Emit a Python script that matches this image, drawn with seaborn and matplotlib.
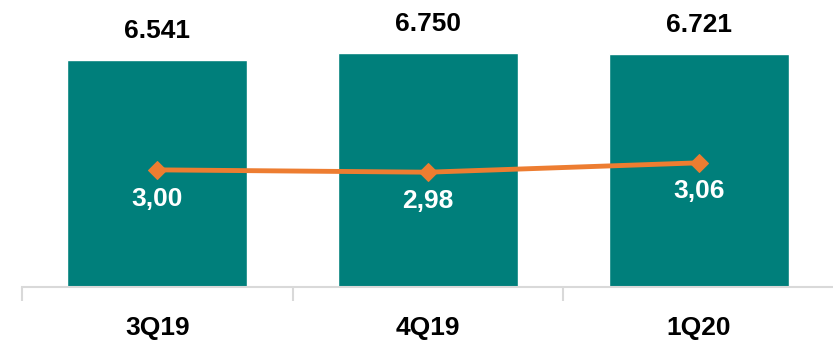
import matplotlib
matplotlib.use("Agg")
import matplotlib.pyplot as plt
import seaborn as sns
import pandas as pd

sns.set_theme(style="white")
plt.rcParams['font.family'] = ['Liberation Sans', 'DejaVu Sans']

quarters = ["3Q19", "4Q19", "1Q20"]
volume = [6.541, 6.750, 6.721]
volume_labels = ["6.541", "6.750", "6.721"]
ratio = [3.00, 2.98, 3.06]
ratio_labels = ["3,00", "2,98", "3,06"]

teal = "#007F7B"
orange = "#ED7D31"

df = pd.DataFrame({"quarter": quarters, "volume": volume, "ratio": ratio})

fig = plt.figure(figsize=(8.33, 3.46), dpi=100)
ax = fig.add_axes([22 / 833, 59 / 346, 812 / 833, 287 / 346])

sns.barplot(data=df, x="quarter", y="volume", color=teal, width=0.665,
            saturation=1, ax=ax)
ax.set_xlim(-0.5, 2.5)
ax.set_ylim(0, 8.27)
for i, lab in enumerate(volume_labels):
    ax.annotate(lab, (i, volume[i]), xytext=(0, 12), textcoords="offset points",
                ha="center", va="bottom", fontsize=19, fontweight="bold", color="black")

ax2 = ax.twinx()
sns.lineplot(x=list(range(len(quarters))), y=ratio, ax=ax2, color=orange,
             linewidth=3.5, marker="D", markersize=9, markeredgecolor=orange)
ax2.set_ylim(2.0, 4.45)
for i, lab in enumerate(ratio_labels):
    ax2.annotate(lab, (i, ratio[i]), xytext=(0, -12), textcoords="offset points",
                 ha="center", va="top", fontsize=19, fontweight="bold", color="white")

for a in (ax, ax2):
    for s in ["top", "right", "left"]:
        a.spines[s].set_visible(False)
    a.set_yticks([])
    a.set_ylabel("")
ax2.spines["bottom"].set_visible(False)

ax.spines["bottom"].set_color("#D9D9D9")
ax.spines["bottom"].set_linewidth(1.5)
ax.set_xlabel("")
ax.set_xticks([-0.5, 0.5, 1.5], minor=True)
ax.tick_params(axis="x", which="minor", length=10, color="#D9D9D9", width=1.5,
               direction="out", bottom=True)
ax.tick_params(axis="x", which="major", length=0, pad=21, labelsize=19)
for t in ax.get_xticklabels():
    t.set_fontweight("bold")
    t.set_color("black")

fig.savefig("out.png", dpi=100)
